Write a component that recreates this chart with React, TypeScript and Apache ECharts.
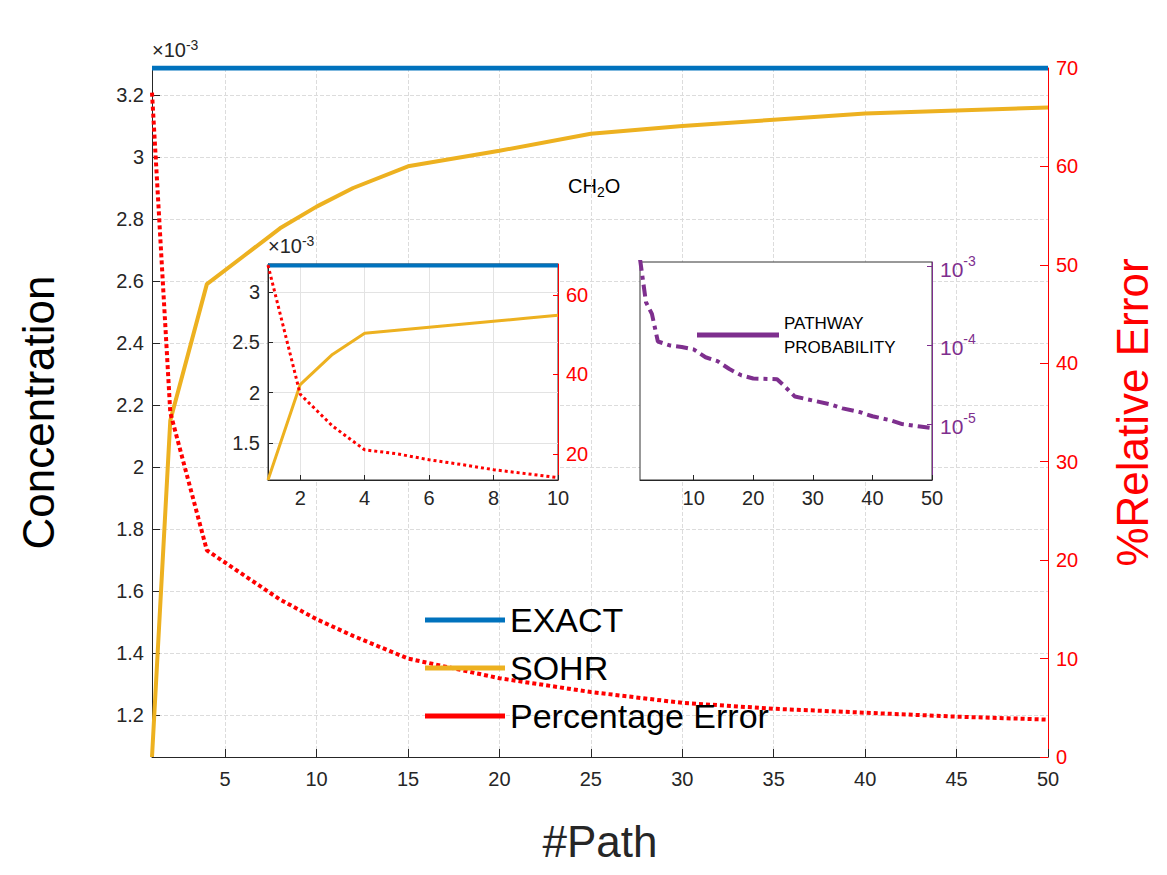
import { useEffect, useRef } from 'react'
import * as echarts from 'echarts'

// main plot
const pathX = [1, 2, 4, 6, 8, 10, 12, 15, 20, 25, 30, 35, 40, 45, 50]
const sohr = [1.065, 2.15, 2.59, 2.68, 2.77, 2.84, 2.9, 2.97, 3.02, 3.075, 3.1, 3.12, 3.14, 3.15, 3.16]
const errPct = [67.5, 35, 21, 18.5, 16, 14, 12.3, 10, 8, 6.6, 5.5, 4.9, 4.5, 4.1, 3.8]
const exact = 3.287

// inset 1
const insetX = [1, 2, 3, 4, 5, 6, 7, 8, 9, 10]
const insetSohr = [1.13, 2.08, 2.38, 2.59, 2.62, 2.65, 2.68, 2.71, 2.74, 2.77]
const insetErr = [67.5, 35, 27, 21, 20, 18.5, 17.3, 16, 15, 14]

// inset 2: log10 of pathway probability
const probX = [1, 2, 3, 4, 6, 8, 10, 12, 14, 16, 18, 20, 24, 25, 27, 30, 33, 35, 38, 40, 43, 45, 48, 50]
const probLog = [-2.9, -3.45, -3.6, -3.95, -4.0, -4.02, -4.05, -4.15, -4.2, -4.3, -4.38, -4.42, -4.43, -4.5, -4.65, -4.7, -4.75, -4.8, -4.85, -4.9, -4.95, -5.0, -5.03, -5.05]

const mainXTicks = [5, 10, 15, 20, 25, 30, 35, 40, 45, 50]
const mainYTicks = [1.2, 1.4, 1.6, 1.8, 2, 2.2, 2.4, 2.6, 2.8, 3, 3.2]
const insetXTicks = [2, 4, 6, 8, 10]
const insetYTicks = [1.5, 2, 2.5, 3]
const probXTicks = [10, 20, 30, 40, 50]
const probYTicks = [-5, -4, -3]

const FONT = 'Liberation Sans'
const zip = (xs: number[], ys: number[]) => xs.map((x, i) => [x, ys[i]])

export default function App() {
  const ref = useRef<HTMLDivElement>(null)

  useEffect(() => {
    if (!ref.current) return
    const chart = echarts.init(ref.current, null, { renderer: 'svg' })
    const lbl = { color: '#262626', fontSize: 20, fontFamily: FONT }
    const sup = (x: number, y: number) => ({
      type: 'text', left: x, top: y, z: 10,
      style: { text: '{a|×10}{s|-3}', rich: { a: { fontSize: 20, fill: '#262626', fontFamily: FONT }, s: { fontSize: 14, fill: '#262626', fontFamily: FONT, padding: [0, 0, 10, 0] } } },
    })

    const option: any = {
      animation: false,
      backgroundColor: '#fff',
      textStyle: { fontFamily: FONT },
      grid: [
        { left: 152, right: 119, top: 68, bottom: 118 },
        { left: 268, right: 609, top: 264, bottom: 395, show: true, borderColor: '#333', borderWidth: 1, z: 5 },
        { left: 640, right: 235, top: 262, bottom: 395, show: true, borderColor: '#333', borderWidth: 1, z: 5 },
      ],
      legend: [
        {
          data: ['EXACT', 'SOHR', 'Percentage Error'],
          orient: 'vertical', left: 420, top: 598, itemGap: 14, itemWidth: 80, itemHeight: 5, icon: 'rect',
          textStyle: { fontSize: 34, color: '#000', fontFamily: FONT },
        },
        {
          data: ['PATHWAY PROBABILITY'],
          left: 692, top: 306, itemWidth: 82, itemHeight: 5, icon: 'rect', z: 10,
          formatter: () => 'PATHWAY\nPROBABILITY',
          textStyle: { fontSize: 17, color: '#000', fontFamily: FONT, lineHeight: 24 },
        },
      ],
      xAxis: [
        {
          type: 'value', gridIndex: 0, min: 1, max: 50,
          name: '#Path', nameLocation: 'middle', nameGap: 62,
          nameTextStyle: { fontSize: 44, color: '#262626', fontFamily: FONT },
          axisLine: { lineStyle: { color: '#262626' } },
          axisTick: { customValues: mainXTicks, inside: true, length: 8 },
          axisLabel: { ...lbl, customValues: mainXTicks, margin: 12 },
          splitLine: { show: true, lineStyle: { color: '#dcdcdc', type: 'dashed' } },
        },
        {
          type: 'value', gridIndex: 1, min: 1, max: 10, z: 5,
          axisLine: { lineStyle: { color: '#262626' } },
          axisTick: { customValues: insetXTicks, inside: true },
          axisLabel: { ...lbl, customValues: insetXTicks },
          splitLine: { show: true, lineStyle: { color: '#e3e3e3' } },
        },
        {
          type: 'value', gridIndex: 2, min: 1, max: 50, z: 5,
          axisLine: { lineStyle: { color: '#262626' } },
          axisTick: { customValues: probXTicks, inside: true },
          axisLabel: { ...lbl, customValues: probXTicks },
          splitLine: { show: false },
        },
      ],
      yAxis: [
        {
          type: 'value', gridIndex: 0, min: 1.065, max: exact,
          name: 'Concentration', nameLocation: 'middle', nameGap: 92,
          nameTextStyle: { fontSize: 44, color: '#000', fontFamily: FONT },
          axisLine: { show: true, lineStyle: { color: '#262626' } },
          axisTick: { show: true, customValues: mainYTicks, inside: true, length: 8 },
          axisLabel: { ...lbl, customValues: mainYTicks, formatter: (v: number) => String(+v.toFixed(1)) },
          splitLine: { show: true, lineStyle: { color: '#dcdcdc', type: 'dashed' } },
        },
        {
          type: 'value', gridIndex: 0, min: 0, max: 70, interval: 10, position: 'right',
          name: '%Relative Error', nameLocation: 'middle', nameGap: 62, nameRotate: 90,
          nameTextStyle: { fontSize: 44, color: '#ff0000', fontFamily: FONT },
          axisLine: { show: true, lineStyle: { color: '#ff0000' } },
          axisTick: { show: true, inside: true, length: 8 },
          axisLabel: { ...lbl, color: '#ff0000' },
          splitLine: { show: false },
        },
        {
          type: 'value', gridIndex: 1, min: 1.13, max: 3.28, z: 5,
          axisLine: { show: true, lineStyle: { color: '#262626' } },
          axisTick: { show: true, customValues: insetYTicks, inside: true },
          axisLabel: { ...lbl, customValues: insetYTicks },
          splitLine: { show: true, lineStyle: { color: '#e3e3e3' } },
        },
        {
          type: 'value', gridIndex: 1, min: 13.4, max: 67.8, position: 'right', z: 5,
          axisLine: { show: true, lineStyle: { color: '#ff0000' } },
          axisTick: { show: true, customValues: [20, 40, 60], inside: true },
          axisLabel: { ...lbl, color: '#ff0000', customValues: [20, 40, 60] },
          splitLine: { show: false },
        },
        {
          type: 'value', gridIndex: 2, min: -5.71, max: -2.94, position: 'right', z: 5,
          axisLine: { show: true, lineStyle: { color: '#7e2f8e' } },
          axisTick: { show: true, customValues: probYTicks, inside: true },
          axisLabel: {
            customValues: probYTicks, color: '#7e2f8e',
            formatter: (v: number) => `{b|10}{s|${Math.round(v)}}`,
            rich: {
              b: { fontSize: 21, color: '#7e2f8e', fontFamily: FONT, verticalAlign: 'bottom' },
              s: { fontSize: 14, color: '#7e2f8e', fontFamily: FONT, verticalAlign: 'top', padding: [0, 0, 12, 0] },
            },
          },
          splitLine: { show: false },
        },
      ],
      series: [
        { name: 'EXACT', type: 'line', xAxisIndex: 0, yAxisIndex: 0, symbol: 'none', data: [[1, exact], [50, exact]], lineStyle: { color: '#0072bd', width: 5 }, itemStyle: { color: '#0072bd' }, z: 3 },
        { name: 'SOHR', type: 'line', xAxisIndex: 0, yAxisIndex: 0, symbol: 'none', data: zip(pathX, sohr), lineStyle: { color: '#edb120', width: 4 }, itemStyle: { color: '#edb120' } },
        { name: 'Percentage Error', type: 'line', xAxisIndex: 0, yAxisIndex: 1, symbol: 'none', data: zip(pathX, errPct), lineStyle: { color: '#ff0000', width: 4, type: [4, 3] }, itemStyle: { color: '#ff0000' } },
        { name: 'in-exact', type: 'line', xAxisIndex: 1, yAxisIndex: 2, symbol: 'none', data: [[1, 3.265], [10, 3.265]], lineStyle: { color: '#0072bd', width: 4 }, z: 6 },
        { name: 'in-sohr', type: 'line', xAxisIndex: 1, yAxisIndex: 2, symbol: 'none', data: zip(insetX, insetSohr), lineStyle: { color: '#edb120', width: 3 }, z: 6 },
        { name: 'in-err', type: 'line', xAxisIndex: 1, yAxisIndex: 3, symbol: 'none', data: zip(insetX, insetErr), lineStyle: { color: '#ff0000', width: 3, type: [3, 3] }, z: 6 },
        { name: 'PATHWAY PROBABILITY', type: 'line', xAxisIndex: 2, yAxisIndex: 4, symbol: 'none', data: zip(probX, probLog), lineStyle: { color: '#7e2f8e', width: 4, type: [12, 5, 4, 5] }, itemStyle: { color: '#7e2f8e' }, z: 6 },
      ],
      graphic: [
        { type: 'rect', shape: { x: 268, y: 264, width: 290, height: 216 }, style: { fill: '#fff' }, z: 4 },
        { type: 'rect', shape: { x: 640, y: 262, width: 292, height: 218 }, style: { fill: '#fff' }, z: 4 },
        sup(152, 38),
        sup(268, 234),
        { type: 'text', left: 568, top: 176, style: { text: '{a|CH}{s|2}{a|O}', rich: { a: { fontSize: 20, fill: '#000', fontFamily: FONT }, s: { fontSize: 14, fill: '#000', fontFamily: FONT, padding: [12, 0, 0, 0] } } } },
      ],
    }

    chart.setOption(option)
    return () => chart.dispose()
  }, [])

  return <div ref={ref} style={{ position: 'absolute', left: 0, top: 0, width: 1167, height: 875 }} />
}
